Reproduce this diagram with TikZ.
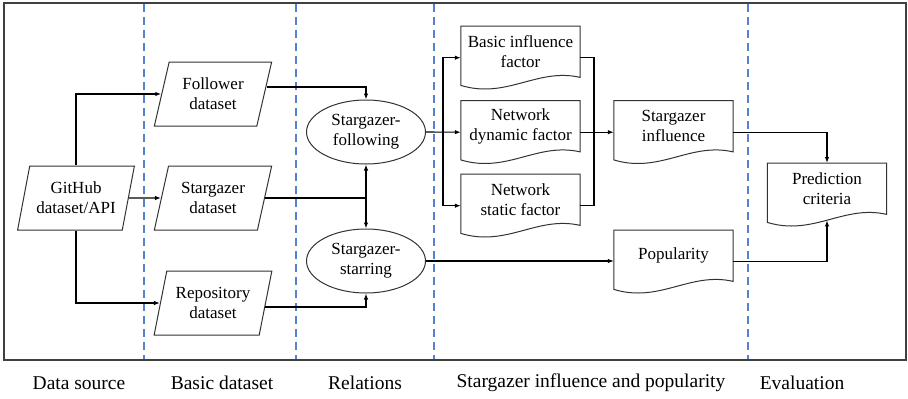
\documentclass[tikz,border=0pt]{standalone}
\usepackage{fontspec}
\setmainfont{Liberation Serif}
\usetikzlibrary{shapes.geometric,arrows.meta,calc}
\definecolor{laneblue}{RGB}{84,130,206}
\definecolor{framegray}{RGB}{64,64,64}
\newcommand\fcnodefont{\fontsize{17pt}{20pt}\selectfont}
\newcommand\fclabelfont{\fontsize{19.5pt}{22pt}\selectfont}
% document symbol: straight top and sides, wavy bottom edge
\newcommand\fcdocoutline[1]{%
  \draw[outline] (#1.north west) -- (#1.north east) -- (#1.south east)
    .. controls +(-43,-10) and +(46,14) .. ($(#1.south west)+(0,8)$) -- cycle;}
\begin{document}
\begin{tikzpicture}[x=1pt,y=-1pt,
  outline/.style={draw=black!80, line width=1pt},
  datain/.style={outline, trapezium, trapezium left angle=72, trapezium right angle=108,
    trapezium stretches=true, minimum width=118pt, minimum height=64pt,
    inner sep=0pt, align=center, font=\fcnodefont},
  relation/.style={outline, ellipse, minimum width=119pt, minimum height=64pt,
    inner sep=0pt, align=center, font=\fcnodefont},
  docnode/.style={anchor=north, minimum width=119pt, minimum height=51pt,
    inner sep=0pt, align=center, font=\fcnodefont},
  wire/.style={line width=1.1pt},
  conn/.style={wire, -{Latex[length=6pt,width=4.5pt]}},
  lane/.style={draw=laneblue, line width=1.2pt, dash pattern=on 8pt off 5pt},
  stage/.style={font=\fclabelfont}
]
\useasboundingbox (0,0) rectangle (908,399);

% outer frame and lane separators
\draw[framegray, line width=1.6pt] (4,3) rectangle (906,360);
\foreach \lx in {144,296,434,748}
  {\draw[lane] (\lx,4) -- (\lx,359);}

% data source and basic datasets
\node[datain] (gh)  at (76,198)  {GitHub\\dataset/API};
\node[datain] (fol) at (213,94)  {Follower\\dataset};
\node[datain] (sgd) at (213,198) {Stargazer\\dataset};
\node[datain] (rep) at (213,303) {Repository\\dataset};

% relations
\node[relation] (sf) at (366,132) {Stargazer-\\following};
\node[relation] (ss) at (366,261) {Stargazer-\\starring};

% factors, influence, popularity, evaluation
\node[docnode] (bif) at (520.5,26)    {Basic influence\\factor};
\node[docnode] (ndf) at (520.5,100.5) {Network\\dynamic factor};
\node[docnode] (nsf) at (520.5,174)   {Network\\static factor};
\node[docnode] (si)  at (673.5,100.5) {Stargazer\\influence};
\node[docnode] (pop) at (673.5,230)   {Popularity};
\node[docnode] (pc)  at (827,163)     {Prediction\\criteria};
\foreach \d in {bif,ndf,nsf,si,pop,pc} {\fcdocoutline{\d}}

% connectors
\draw[conn] (gh.north) |- (fol);
\draw[conn] (gh) -- (sgd);
\draw[conn] (gh.south) |- (rep);

\draw[conn] ([yshift=7pt,xshift=2pt]fol.east) -| (sf.north);
\coordinate (fork) at (sf.south |- sgd.east);
\draw[wire] (sgd.east) -- (fork);
\draw[conn] (fork) -- (sf.south);
\draw[conn] (fork) -- (ss.north);
\draw[conn] ([yshift=-4pt,xshift=-1.2pt]rep.east) -| (ss.south);

\coordinate (busl) at (443,0);
\coordinate (busr) at (594,0);
\draw[conn] (sf.east) -- ([yshift=-6pt]ndf.west);
\draw[conn] (busl |- sf.east) |- ([yshift=-6pt]bif.west);
\draw[conn] (busl |- sf.east) |- ([yshift=-6pt]nsf.west);
\draw[wire] ([yshift=-6pt]bif.east) -| ($(busr |- nsf.east)+(0,6)$) -- ([yshift=-6pt]nsf.east);
\draw[conn] ([yshift=-6pt]ndf.east) -- ([yshift=-6pt]si.west);
\draw[conn] ([yshift=-6pt]si.east) -| (pc.north);
\draw[conn] (ss.east) -- (ss.east -| pop.west);
\draw[conn] ([yshift=-6pt]pop.east) -| ($(pc.south)+(0,6)$);

% stage captions
\node[stage] (cap1) at (79,383)  {Data source};
\node[stage] (cap2) at (222,383) {Basic dataset};
\node[stage] (cap3) at (365,383) {Relations};
\node[stage] (cap4) at (591,383) {Stargazer influence and popularity};
\node[stage] (cap5) at (802,383) {Evaluation};
\end{tikzpicture}
\end{document}
